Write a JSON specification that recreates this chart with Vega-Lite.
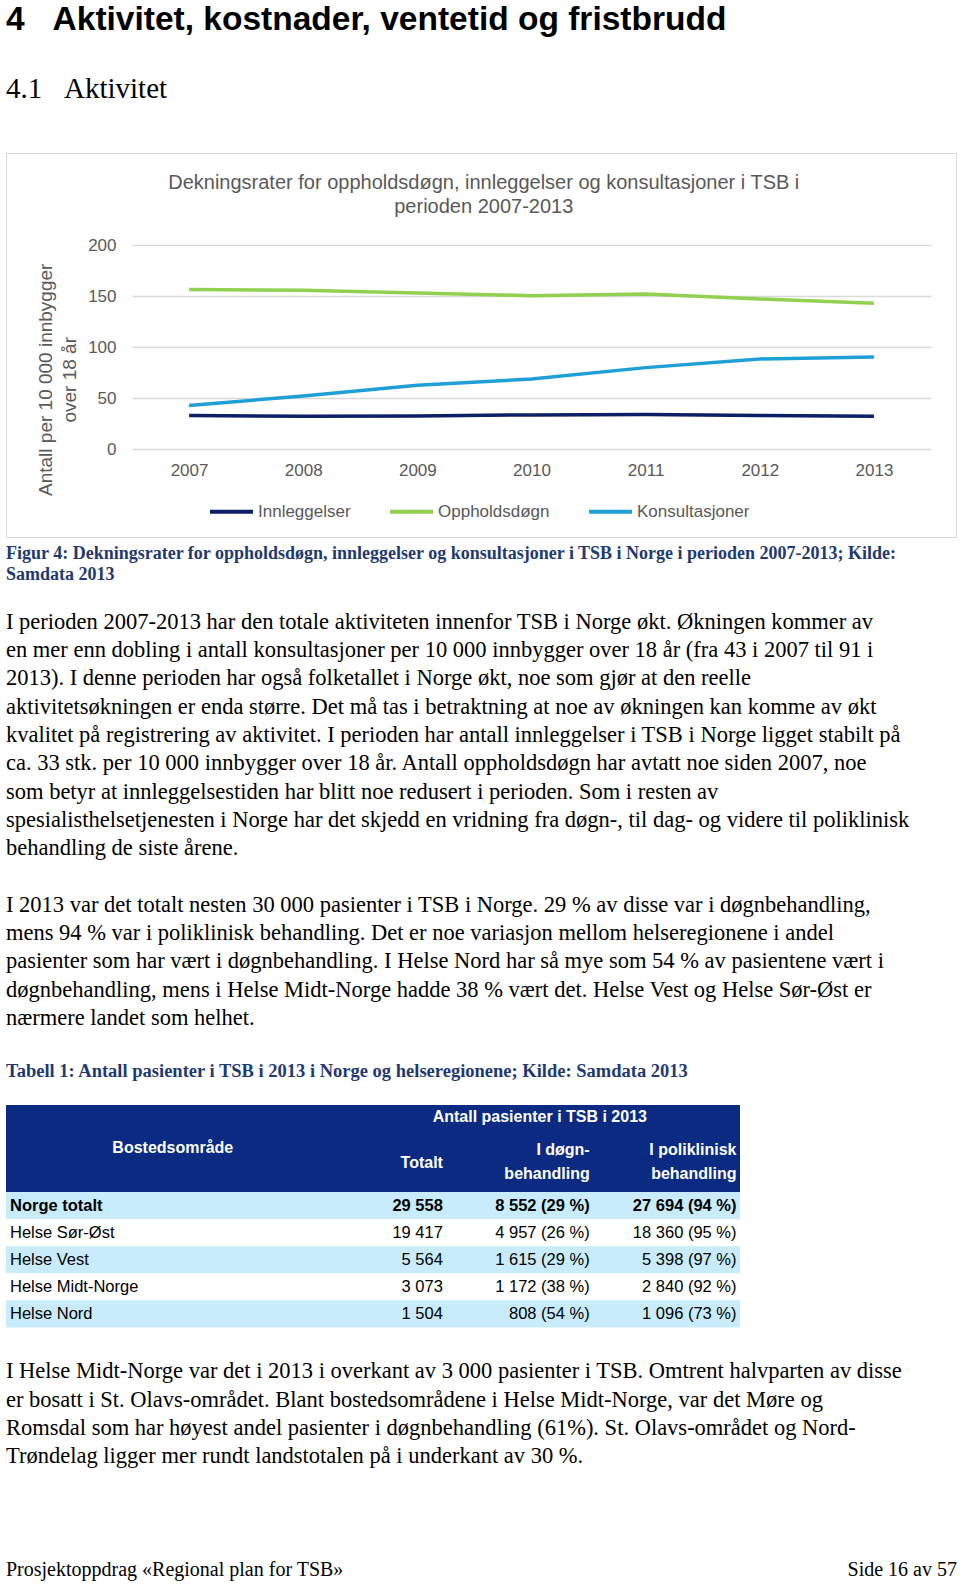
{
  "$schema": "https://vega.github.io/schema/vega-lite/v6.json",
  "padding": {"left": 5, "top": 0, "right": 0, "bottom": 0},
  "background": "white",
  "config": {"view": {"stroke": null}},
  "bounds": "flush",
  "spacing": 0,
  "resolve": {"scale": {"color": "independent"}, "legend": {"color": "independent"}},
  "vconcat": [
    {
      "width": 950,
      "height": 50,
      "data": {"values": [{"line": "h1", "text": "4\u00a0\u00a0\u00a0Aktivitet, kostnader, ventetid og fristbrudd"}]},
      "mark": {"type": "text", "align": "left", "baseline": "middle", "font": "Liberation Sans", "fontWeight": "bold", "fontSize": 33.5, "color": "#000000"},
      "encoding": {
        "x": {"datum": 0, "type": "quantitative", "scale": {"domain": [0, 1]}, "axis": null},
        "y": {"field": "line", "type": "ordinal", "axis": null, "scale": {"padding": 0, "align": 0.39}},
        "text": {"field": "text"}
      }
    },
    {
      "width": 950,
      "height": 103,
      "data": {"values": [{"line": "h2", "text": "4.1\u00a0\u00a0\u00a0Aktivitet"}]},
      "mark": {"type": "text", "align": "left", "baseline": "middle", "font": "Liberation Serif", "fontSize": 29, "color": "#000000"},
      "encoding": {
        "x": {"datum": 0, "type": "quantitative", "scale": {"domain": [0, 1]}, "axis": null},
        "y": {"field": "line", "type": "ordinal", "axis": null, "scale": {"padding": 0, "align": 0.3786}},
        "text": {"field": "text"}
      }
    },
    {
      "bounds": "flush",
      "spacing": 0,
      "resolve": {"scale": {"color": "independent"}, "legend": {"color": "independent"}},
      "vconcat": [
        {
          "width": 950,
          "height": 91.5,
          "data": {"values": []},
          "mark": {"type": "text"},
          "encoding": {}
        },
        {
          "bounds": "flush",
          "spacing": 0,
          "resolve": {"scale": {"color": "independent"}, "legend": {"color": "independent"}},
          "hconcat": [
            {
              "width": 126,
              "height": 204.2,
              "data": {"values": []},
              "mark": {"type": "text"},
              "encoding": {}
            },
            {
              "width": 799,
              "height": 204.2,
              "title": {
                "text": ["Dekningsrater for oppholdsdøgn, innleggelser og konsultasjoner i TSB i", "perioden 2007-2013"],
                "font": "Liberation Sans",
                "fontSize": 20,
                "fontWeight": "normal",
                "color": "#595959",
                "anchor": "middle",
                "frame": "bounds",
                "offset": 19,
                "lineHeight": 24
              },
              "data": {
                "values": [
                  {"year": "2007", "serie": "Innleggelser", "value": 33.0},
                  {"year": "2008", "serie": "Innleggelser", "value": 32.3},
                  {"year": "2009", "serie": "Innleggelser", "value": 32.6},
                  {"year": "2010", "serie": "Innleggelser", "value": 33.6},
                  {"year": "2011", "serie": "Innleggelser", "value": 33.9},
                  {"year": "2012", "serie": "Innleggelser", "value": 33.0},
                  {"year": "2013", "serie": "Innleggelser", "value": 32.3},
                  {"year": "2007", "serie": "Oppholdsdøgn", "value": 156.3},
                  {"year": "2008", "serie": "Oppholdsdøgn", "value": 155.6},
                  {"year": "2009", "serie": "Oppholdsdøgn", "value": 153.0},
                  {"year": "2010", "serie": "Oppholdsdøgn", "value": 150.4},
                  {"year": "2011", "serie": "Oppholdsdøgn", "value": 152.0},
                  {"year": "2012", "serie": "Oppholdsdøgn", "value": 147.1},
                  {"year": "2013", "serie": "Oppholdsdøgn", "value": 142.9},
                  {"year": "2007", "serie": "Konsultasjoner", "value": 42.7},
                  {"year": "2008", "serie": "Konsultasjoner", "value": 52.2},
                  {"year": "2009", "serie": "Konsultasjoner", "value": 62.6},
                  {"year": "2010", "serie": "Konsultasjoner", "value": 68.8},
                  {"year": "2011", "serie": "Konsultasjoner", "value": 79.9},
                  {"year": "2012", "serie": "Konsultasjoner", "value": 88.4},
                  {"year": "2013", "serie": "Konsultasjoner", "value": 90.4}
                ]
              },
              "mark": {"type": "line", "strokeWidth": 3.5},
              "encoding": {
                "x": {
                  "field": "year", "type": "ordinal",
                  "axis": {"title": null, "labelAngle": 0, "domain": false, "ticks": false, "tickSize": 0, "labelPadding": 13, "labelFontSize": 17, "labelColor": "#595959", "labelFont": "Liberation Sans", "grid": false}
                },
                "y": {
                  "field": "value", "type": "quantitative",
                  "scale": {"domain": [0, 200], "nice": false},
                  "axis": {
                    "values": [0, 50, 100, 150, 200],
                    "title": ["Antall per 10 000 innbygger", "over 18 år"],
                    "grid": true, "gridColor": "#d9d9d9", "gridWidth": 1.3,
                    "domain": false, "ticks": false, "tickSize": 0,
                    "labelPadding": 16, "labelFontSize": 17, "labelColor": "#595959", "labelFont": "Liberation Sans",
                    "titleFont": "Liberation Sans", "titleFontSize": 19, "titleFontWeight": "normal", "titleColor": "#595959",
                    "titleAngle": 270, "titleBaseline": "middle", "titleAlign": "center",
                    "titleX": -86.5, "titleY": 134.3, "titleLineHeight": 24
                  }
                },
                "color": {
                  "field": "serie", "type": "nominal",
                  "scale": {"domain": ["Innleggelser", "Oppholdsdøgn", "Konsultasjoner"], "range": ["#0d1f66", "#92d050", "#1ea0d7"]},
                  "legend": {
                    "title": null, "orient": "none", "legendX": 76, "legendY": 243, "direction": "horizontal",
                    "symbolType": "stroke", "symbolSize": 1849, "symbolStrokeWidth": 4,
                    "labelFontSize": 17, "labelColor": "#595959", "labelFont": "Liberation Sans",
                    "columnPadding": 31, "labelOffset": 3, "padding": 0
                  }
                }
              }
            }
          ]
        }
      ]
    },
    {
      "width": 950,
      "height": 384,
      "view": {"stroke": "#d9d9d9", "strokeWidth": 1},
      "data": {"values": []},
      "mark": {"type": "text"},
      "encoding": {}
    },
    {
      "width": 950,
      "height": 63.6,
      "data": {"values": [
        {"line": 1, "text": "Figur 4: Dekningsrater for oppholdsdøgn, innleggelser og konsultasjoner i TSB i Norge i perioden 2007-2013; Kilde:"},
        {"line": 2, "text": "Samdata 2013"}
      ]},
      "mark": {"type": "text", "align": "left", "baseline": "middle", "font": "Liberation Serif", "fontWeight": "bold", "fontSize": 18, "color": "#1f3a70"},
      "encoding": {
        "x": {"datum": 0, "type": "quantitative", "scale": {"domain": [0, 1]}, "axis": null},
        "y": {"field": "line", "type": "ordinal", "axis": null, "scale": {"padding": 1, "align": 0.396}},
        "text": {"field": "text"}
      }
    },
    {
      "width": 950,
      "height": 283,
      "data": {"values": [
        {"line": 1, "text": "I perioden 2007-2013 har den totale aktiviteten innenfor TSB i Norge økt. Økningen kommer av"},
        {"line": 2, "text": "en mer enn dobling i antall konsultasjoner per 10 000 innbygger over 18 år (fra 43 i 2007 til 91 i"},
        {"line": 3, "text": "2013). I denne perioden har også folketallet i Norge økt, noe som gjør at den reelle"},
        {"line": 4, "text": "aktivitetsøkningen er enda større. Det må tas i betraktning at noe av økningen kan komme av økt"},
        {"line": 5, "text": "kvalitet på registrering av aktivitet. I perioden har antall innleggelser i TSB i Norge ligget stabilt på"},
        {"line": 6, "text": "ca. 33 stk. per 10 000 innbygger over 18 år. Antall oppholdsdøgn har avtatt noe siden 2007, noe"},
        {"line": 7, "text": "som betyr at innleggelsestiden har blitt noe redusert i perioden. Som i resten av"},
        {"line": 8, "text": "spesialisthelsetjenesten i Norge har det skjedd en vridning fra døgn-, til dag- og videre til poliklinisk"},
        {"line": 9, "text": "behandling de siste årene."}
      ]},
      "mark": {"type": "text", "align": "left", "baseline": "middle", "font": "Liberation Serif", "fontSize": 22.5, "color": "#000000"},
      "encoding": {
        "x": {"datum": 0, "type": "quantitative", "scale": {"domain": [0, 1]}, "axis": null},
        "y": {"field": "line", "type": "ordinal", "axis": null, "scale": {"padding": 1, "align": 0.369}},
        "text": {"field": "text"}
      }
    },
    {
      "width": 950,
      "height": 169.8,
      "data": {"values": [
        {"line": 1, "text": "I 2013 var det totalt nesten 30 000 pasienter i TSB i Norge. 29 % av disse var i døgnbehandling,"},
        {"line": 2, "text": "mens 94 % var i poliklinisk behandling. Det er noe variasjon mellom helseregionene i andel"},
        {"line": 3, "text": "pasienter som har vært i døgnbehandling. I Helse Nord har så mye som 54 % av pasientene vært i"},
        {"line": 4, "text": "døgnbehandling, mens i Helse Midt-Norge hadde 38 % vært det. Helse Vest og Helse Sør-Øst er"},
        {"line": 5, "text": "nærmere landet som helhet."}
      ]},
      "mark": {"type": "text", "align": "left", "baseline": "middle", "font": "Liberation Serif", "fontSize": 22.5, "color": "#000000"},
      "encoding": {
        "x": {"datum": 0, "type": "quantitative", "scale": {"domain": [0, 1]}, "axis": null},
        "y": {"field": "line", "type": "ordinal", "axis": null, "scale": {"padding": 1, "align": 0.3675}},
        "text": {"field": "text"}
      }
    },
    {
      "width": 950,
      "height": 50.1,
      "data": {"values": [
        {"line": 1, "text": "Tabell 1: Antall pasienter i TSB i 2013 i Norge og helseregionene; Kilde: Samdata 2013"}
      ]},
      "mark": {"type": "text", "align": "left", "baseline": "middle", "font": "Liberation Serif", "fontWeight": "bold", "fontSize": 18.5, "color": "#1f3a70"},
      "encoding": {
        "x": {"datum": 0, "type": "quantitative", "scale": {"domain": [0, 1]}, "axis": null},
        "y": {"field": "line", "type": "ordinal", "axis": null, "scale": {"padding": 0, "align": 0.331}},
        "text": {"field": "text"}
      }
    },
    {
      "width": 734,
      "height": 86.9,
      "layer": [
        {
          "data": {"values": [{"part": "header"}]},
          "mark": {"type": "rect", "color": "#0b2b82"},
          "encoding": {}
        },
        {
          "data": {"values": [{"col": "dogn", "row": "r1", "text": "Antall pasienter i TSB i 2013"}]},
          "mark": {"type": "text", "align": "center", "baseline": "middle", "dx": 20, "dy": -10, "font": "Liberation Sans", "fontWeight": "bold", "fontSize": 16, "color": "#ffffff"},
          "encoding": {
            "x": {"field": "col", "type": "nominal", "axis": null, "bandPosition": 0.5, "scale": {"type": "band", "domain": ["label", "pad", "totalt", "dogn", "poli"], "paddingInner": 0, "paddingOuter": 0}},
            "y": {"field": "row", "type": "ordinal", "axis": null, "scale": {"type": "point", "domain": ["r1", "r2", "r3"], "padding": 0.8648, "align": 0.548}},
            "text": {"field": "text"}
          }
        },
        {
          "data": {"values": [{"col": "label", "row": "r2", "text": "Bostedsområde"}]},
          "mark": {"type": "text", "align": "center", "baseline": "middle", "dx": 20, "dy": -2, "font": "Liberation Sans", "fontWeight": "bold", "fontSize": 16, "color": "#ffffff"},
          "encoding": {
            "x": {"field": "col", "type": "nominal", "axis": null, "bandPosition": 1, "scale": {"type": "band", "domain": ["label", "pad", "totalt", "dogn", "poli"], "paddingInner": 0, "paddingOuter": 0}},
            "y": {"field": "row", "type": "ordinal", "axis": null, "scale": {"type": "point", "domain": ["r1", "r2", "r3"], "padding": 0.8648, "align": 0.548}},
            "text": {"field": "text"}
          }
        },
        {
          "data": {"values": [{"col": "totalt", "row": "r2", "text": "Totalt"}]},
          "mark": {"type": "text", "align": "right", "baseline": "middle", "dx": -3.5, "dy": 12.2, "font": "Liberation Sans", "fontWeight": "bold", "fontSize": 16, "color": "#ffffff"},
          "encoding": {
            "x": {"field": "col", "type": "nominal", "axis": null, "bandPosition": 1, "scale": {"type": "band", "domain": ["label", "pad", "totalt", "dogn", "poli"], "paddingInner": 0, "paddingOuter": 0}},
            "y": {"field": "row", "type": "ordinal", "axis": null, "scale": {"type": "point", "domain": ["r1", "r2", "r3"], "padding": 0.8648, "align": 0.548}},
            "text": {"field": "text"}
          }
        },
        {
          "data": {"values": [
            {"col": "dogn", "row": "r2", "text": "I døgn-"},
            {"col": "dogn", "row": "r3", "text": "behandling"},
            {"col": "poli", "row": "r2", "text": "I poliklinisk"},
            {"col": "poli", "row": "r3", "text": "behandling"}
          ]},
          "mark": {"type": "text", "align": "right", "baseline": "middle", "dx": -3.5, "font": "Liberation Sans", "fontWeight": "bold", "fontSize": 16, "color": "#ffffff"},
          "encoding": {
            "x": {"field": "col", "type": "nominal", "axis": null, "bandPosition": 1, "scale": {"type": "band", "domain": ["label", "pad", "totalt", "dogn", "poli"], "paddingInner": 0, "paddingOuter": 0}},
            "y": {"field": "row", "type": "ordinal", "axis": null, "scale": {"type": "point", "domain": ["r1", "r2", "r3"], "padding": 0.8648, "align": 0.548}},
            "text": {"field": "text"}
          }
        }
      ]
    },
    {
      "width": 734,
      "height": 135.4,
      "data": {"values": [
        {"region": "Norge totalt", "totalt": "29 558", "dogn": "8 552 (29 %)", "poli": "27 694 (94 %)"},
        {"region": "Helse Sør-Øst", "totalt": "19 417", "dogn": "4 957 (26 %)", "poli": "18 360 (95 %)"},
        {"region": "Helse Vest", "totalt": "5 564", "dogn": "1 615 (29 %)", "poli": "5 398 (97 %)"},
        {"region": "Helse Midt-Norge", "totalt": "3 073", "dogn": "1 172 (38 %)", "poli": "2 840 (92 %)"},
        {"region": "Helse Nord", "totalt": "1 504", "dogn": "808 (54 %)", "poli": "1 096 (73 %)"}
      ]},
      "layer": [
        {
          "mark": {"type": "rect"},
          "encoding": {
            "y": {"field": "region", "type": "nominal", "axis": null, "scale": {"type": "band", "domain": ["Norge totalt", "Helse Sør-Øst", "Helse Vest", "Helse Midt-Norge", "Helse Nord"], "paddingInner": 0, "paddingOuter": 0}},
            "color": {"condition": {"test": "datum.region === 'Norge totalt' || datum.region === 'Helse Vest' || datum.region === 'Helse Nord'", "value": "#c8ecfb"}, "value": "#ffffff"}
          }
        },
        {
          "transform": [{"filter": "datum.region === 'Norge totalt'"}],
          "mark": {"type": "text", "align": "left", "baseline": "middle", "dx": 4, "font": "Liberation Sans", "fontWeight": "bold", "fontSize": 16.5, "color": "#000000"},
          "encoding": {
            "x": {"datum": "label", "type": "nominal", "axis": null, "bandPosition": 0, "scale": {"type": "band", "domain": ["label", "pad", "totalt", "dogn", "poli"], "paddingInner": 0, "paddingOuter": 0}},
            "y": {"field": "region", "type": "nominal", "axis": null, "scale": {"type": "band", "domain": ["Norge totalt", "Helse Sør-Øst", "Helse Vest", "Helse Midt-Norge", "Helse Nord"], "paddingInner": 0, "paddingOuter": 0}},
            "text": {"field": "region"}
          }
        },
        {
          "transform": [{"filter": "datum.region !== 'Norge totalt'"}],
          "mark": {"type": "text", "align": "left", "baseline": "middle", "dx": 4, "font": "Liberation Sans", "fontSize": 16.5, "color": "#000000"},
          "encoding": {
            "x": {"datum": "label", "type": "nominal", "axis": null, "bandPosition": 0, "scale": {"type": "band", "domain": ["label", "pad", "totalt", "dogn", "poli"], "paddingInner": 0, "paddingOuter": 0}},
            "y": {"field": "region", "type": "nominal", "axis": null, "scale": {"type": "band", "domain": ["Norge totalt", "Helse Sør-Øst", "Helse Vest", "Helse Midt-Norge", "Helse Nord"], "paddingInner": 0, "paddingOuter": 0}},
            "text": {"field": "region"}
          }
        },
        {
          "transform": [{"fold": ["totalt", "dogn", "poli"], "as": ["col", "val"]}, {"filter": "datum.region === 'Norge totalt'"}],
          "mark": {"type": "text", "align": "right", "baseline": "middle", "dx": -3.5, "font": "Liberation Sans", "fontWeight": "bold", "fontSize": 16.5, "color": "#000000"},
          "encoding": {
            "x": {"field": "col", "type": "nominal", "axis": null, "bandPosition": 1, "scale": {"type": "band", "domain": ["label", "pad", "totalt", "dogn", "poli"], "paddingInner": 0, "paddingOuter": 0}},
            "y": {"field": "region", "type": "nominal", "axis": null, "scale": {"type": "band", "domain": ["Norge totalt", "Helse Sør-Øst", "Helse Vest", "Helse Midt-Norge", "Helse Nord"], "paddingInner": 0, "paddingOuter": 0}},
            "text": {"field": "val"}
          }
        },
        {
          "transform": [{"fold": ["totalt", "dogn", "poli"], "as": ["col", "val"]}, {"filter": "datum.region !== 'Norge totalt'"}],
          "mark": {"type": "text", "align": "right", "baseline": "middle", "dx": -3.5, "font": "Liberation Sans", "fontSize": 16.5, "color": "#000000"},
          "encoding": {
            "x": {"field": "col", "type": "nominal", "axis": null, "bandPosition": 1, "scale": {"type": "band", "domain": ["label", "pad", "totalt", "dogn", "poli"], "paddingInner": 0, "paddingOuter": 0}},
            "y": {"field": "region", "type": "nominal", "axis": null, "scale": {"type": "band", "domain": ["Norge totalt", "Helse Sør-Øst", "Helse Vest", "Helse Midt-Norge", "Helse Nord"], "paddingInner": 0, "paddingOuter": 0}},
            "text": {"field": "val"}
          }
        }
      ]
    },
    {
      "width": 950,
      "height": 141.5,
      "data": {"values": [
        {"line": 1, "text": "I Helse Midt-Norge var det i 2013 i overkant av 3 000 pasienter i TSB. Omtrent halvparten av disse"},
        {"line": 2, "text": "er bosatt i St. Olavs-området. Blant bostedsområdene i Helse Midt-Norge, var det Møre og"},
        {"line": 3, "text": "Romsdal som har høyest andel pasienter i døgnbehandling (61%). St. Olavs-området og Nord-"},
        {"line": 4, "text": "Trøndelag ligger mer rundt landstotalen på i underkant av 30 %."}
      ]},
      "mark": {"type": "text", "align": "left", "baseline": "middle", "font": "Liberation Serif", "fontSize": 22.5, "color": "#000000"},
      "encoding": {
        "x": {"datum": 0, "type": "quantitative", "scale": {"domain": [0, 1]}, "axis": null},
        "y": {"field": "line", "type": "ordinal", "axis": null, "scale": {"padding": 1, "align": 0.767}},
        "text": {"field": "text"}
      }
    },
    {
      "width": 951,
      "height": 116.7,
      "layer": [
        {
          "data": {"values": [{"line": "f", "text": "Prosjektoppdrag «Regional plan for TSB»"}]},
          "mark": {"type": "text", "align": "left", "baseline": "middle", "font": "Liberation Serif", "fontSize": 20, "color": "#000000"},
          "encoding": {
            "x": {"datum": 0, "type": "quantitative", "scale": {"domain": [0, 1]}, "axis": null},
            "y": {"field": "line", "type": "ordinal", "axis": null, "scale": {"padding": 0, "align": 0.857}},
            "text": {"field": "text"}
          }
        },
        {
          "data": {"values": [{"line": "f", "text": "Side 16 av 57"}]},
          "mark": {"type": "text", "align": "right", "baseline": "middle", "font": "Liberation Serif", "fontSize": 20, "color": "#000000"},
          "encoding": {
            "x": {"datum": 1, "type": "quantitative", "scale": {"domain": [0, 1]}, "axis": null},
            "y": {"field": "line", "type": "ordinal", "axis": null, "scale": {"padding": 0, "align": 0.857}},
            "text": {"field": "text"}
          }
        }
      ]
    }
  ]
}
